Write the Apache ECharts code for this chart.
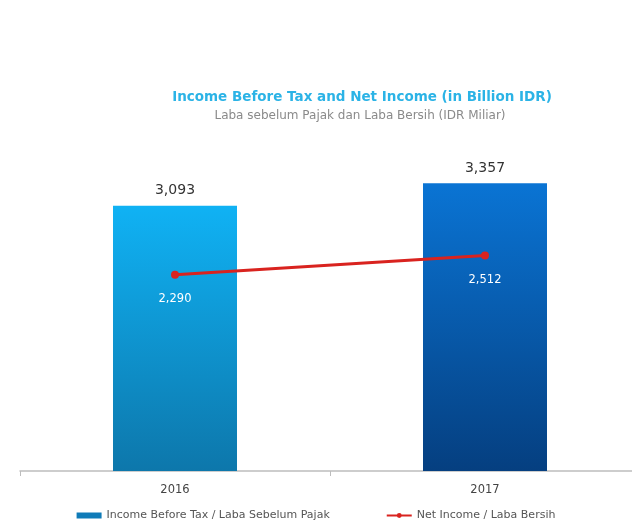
<!DOCTYPE html>
<html>
<head>
<meta charset="utf-8">
<script src="https://cdn.jsdelivr.net/npm/echarts@6/dist/echarts.min.js"></script>
<style>
  html, body { margin: 0; padding: 0; background: #ffffff; }
  #chart { width: 632px; height: 527px; }
</style>
</head>
<body>
<div id="chart"></div>
<script>
// Income figures in billion IDR
const years = ['2016', '2017'];
const incomeBeforeTax = [3093, 3357];
const netIncome = [2290, 2512];
const seriesNames = ['Income Before Tax / Laba Sebelum Pajak', 'Net Income / Laba Bersih'];

// Per-year vertical gradients for the bars
const barGradients = [
  ['#10b2f4', '#0d77ab'],
  ['#0a74d4', '#053f80']
];

const fmt = v => v.toLocaleString('en-US');
const FONT = 'DejaVu Sans';

const chart = echarts.init(document.getElementById('chart'), null, { renderer: 'canvas' });

chart.setOption({
  backgroundColor: '#ffffff',
  animation: false,
  textStyle: { fontFamily: FONT },
  title: [
    {
      text: 'Income Before Tax and Net Income (in Billion IDR)',
      left: 357, top: 85, textAlign: 'center',
      textStyle: { fontFamily: FONT, fontSize: 13.5, fontWeight: 'bold', color: '#2bb3e6' }
    },
    {
      text: 'Laba sebelum Pajak dan Laba Bersih (IDR Miliar)',
      left: 355, top: 105, textAlign: 'center',
      textStyle: { fontFamily: FONT, fontSize: 12, fontWeight: 'normal', color: '#8a8a8a' }
    }
  ],
  legend: {
    top: 505,
    left: 'center',
    itemGap: 56,
    itemWidth: 25,
    itemHeight: 6,
    textStyle: { fontFamily: FONT, fontSize: 11, color: '#555' },
    data: [
      { name: seriesNames[0], icon: 'rect', itemStyle: { color: '#0f7bb8' } },
      { name: seriesNames[1] }
    ]
  },
  // The axis runs slightly past the right edge of the canvas
  grid: { left: 20, width: 620, top: 128, bottom: 56, containLabel: false, outerBoundsMode: 'none' },
  xAxis: {
    type: 'category',
    data: years,
    axisLine: { lineStyle: { color: '#bdbdbd', width: 1.5 } },
    axisTick: { show: true, length: 5, lineStyle: { color: '#bdbdbd' } },
    axisLabel: { fontFamily: FONT, fontSize: 11.5, color: '#444', margin: 13 }
  },
  yAxis: {
    type: 'value',
    min: 0, max: 4000,
    show: false,
    splitLine: { show: false }
  },
  series: [
    {
      name: seriesNames[0],
      type: 'bar',
      barWidth: '40%',
      data: incomeBeforeTax.map((v, i) => ({
        value: v,
        itemStyle: {
          color: new echarts.graphic.LinearGradient(0, 0, 0, 1, [
            { offset: 0, color: barGradients[i][0] },
            { offset: 1, color: barGradients[i][1] }
          ])
        }
      })),
      label: {
        show: true, position: 'top', distance: 8,
        formatter: p => fmt(p.value),
        fontFamily: FONT, fontSize: 14, color: '#333'
      }
    },
    {
      name: seriesNames[1],
      type: 'line',
      data: netIncome,
      symbol: 'circle',
      symbolSize: 8,
      lineStyle: { color: '#d9231f', width: 3 },
      itemStyle: { color: '#d9231f' },
      label: {
        show: true, position: 'bottom', distance: 14,
        formatter: p => fmt(p.value),
        fontFamily: FONT, fontSize: 11.5, color: '#ffffff'
      },
      z: 5
    }
  ]
});
</script>
</body>
</html>
